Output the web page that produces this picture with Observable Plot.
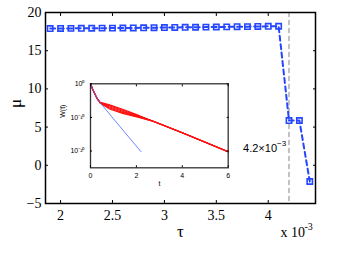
<!DOCTYPE html>
<html><head><meta charset="utf-8">
<script src="https://cdn.jsdelivr.net/npm/d3@7"></script>
<script src="https://cdn.jsdelivr.net/npm/@observablehq/plot@0.6"></script>
<style>
body{margin:0;background:#fff;}
#wrap{position:relative;width:360px;height:258px;overflow:hidden;background:#fff;}
#wrap svg{position:absolute;left:0;top:0;}
</style></head><body><div id="wrap"></div>
<script>
// ---- main chart data ----
const tau = [1.9,2.0,2.1,2.2,2.3,2.4,2.5,2.6,2.7,2.8,2.9,3.0,3.1,3.2,3.3,3.4,3.5,3.6,3.7,3.8,3.9,4.0,4.1,4.2,4.3,4.4];
const mu  = [17.90,17.91,17.92,17.93,17.94,17.95,17.96,17.97,17.98,18.00,18.01,18.03,18.04,18.06,18.07,18.09,18.10,18.12,18.14,18.15,18.17,18.19,18.20,5.86,5.86,-2.12];
const threshold = [4.2];
const annotationMu = [2.2];
const xTicks = [2,2.5,3,3.5,4];
const yTicks = [-5,0,5,10,15,20];

// ---- inset data (log10 W(t)) ----
const redT  = [0,0.1,0.2,0.3,0.42,0.8,1.4,2.1,2.7,4,5,6];
const red1  = [0,-1.7,-3.2,-4.5,-5.5,-6.2,-7.6,-9.4,-11.1,-14.6,-17.4,-20.2];
const red2  = [0,-1.7,-3.2,-4.5,-5.6,-6.5,-7.9,-9.55,-11.1,-14.6,-17.4,-20.2];
const red3  = [0,-1.7,-3.2,-4.5,-5.6,-6.8,-8.2,-9.7,-11.1,-14.6,-17.4,-20.2];
const red4  = [0,-1.7,-3.2,-4.5,-5.7,-7.1,-8.5,-9.85,-11.1,-14.6,-17.4,-20.2];
const red5  = [0,-1.7,-3.2,-4.5,-5.7,-7.4,-8.8,-10.0,-11.1,-14.6,-17.4,-20.2];
const blueT = [0,0.1,0.2,0.3,0.42,0.65,1,1.5,2.2];
const blueW = [0,-1.7,-3.2,-4.5,-5.6,-7.5,-10.4,-14.5,-20.2];
const insetXTicks = [0,2,4,6];
const insetYTicks = [0,-10,-20];

const main = tau.map((t,i)=>({tau:t, mu:mu[i]}));
const redRows = [];
[red1,red2,red3,red4,red5].forEach((s,k)=>s.forEach((v,i)=>redRows.push({run:k,t:redT[i],w:10**v})));
const blueRows = blueT.map((t,i)=>({t, w:10**blueW[i]}));

const blue = "#2546ff";
const serif = "'Liberation Serif','Times New Roman',Times,serif";
const sans = "'Liberation Sans',Arial,Helvetica,sans-serif";
const wrap = document.getElementById("wrap");

const chart = Plot.plot({
  width:360, height:258, marginLeft:45, marginRight:45, marginTop:12, marginBottom:55,
  style:{fontFamily:serif, fontSize:"14px", background:"transparent", color:"black"},
  x:{domain:[1.855,4.455]},
  y:{domain:[-5,20]},
  marks:[
    Plot.ruleX(threshold,{stroke:"#999",strokeWidth:1.2,strokeDasharray:"5,3"}),
    Plot.line(main,{x:"tau",y:"mu",stroke:blue,strokeWidth:2,strokeDasharray:"5,3.5"}),
    Plot.dot(main,{x:"tau",y:"mu",symbol:"square",r:3,stroke:blue,strokeWidth:1.6,fill:"none"}),
    Plot.frame({stroke:"black",strokeWidth:1.5}),
    Plot.axisX({ticks:xTicks,tickSize:-3,tickPadding:10,tickFormat:d=>String(d),label:null,fontSize:14}),
    Plot.axisX({anchor:"top",ticks:xTicks,tickSize:-3,tickFormat:()=>"",label:null}),
    Plot.axisY({ticks:yTicks,tickSize:-3,tickPadding:7,label:null}),
    Plot.axisY({anchor:"right",ticks:yTicks,tickSize:-3,tickFormat:()=>"",label:null}),
    Plot.text(["τ"],{frameAnchor:"bottom",dy:33,fontSize:17}),
    Plot.text(["μ"],{frameAnchor:"left",rotate:-90,dx:-30,dy:0,fontSize:17}),
    Plot.text(["x 10"],{frameAnchor:"bottom-right",textAnchor:"start",dx:-35,dy:33,fontSize:14}),
    Plot.text(["-3"],{frameAnchor:"bottom-right",textAnchor:"start",dx:-11,dy:26,fontSize:10}),
    Plot.text(threshold,{x:d=>d,y:annotationMu,text:()=>"4.2×10",textAnchor:"end",dx:-12,fontFamily:sans,fontSize:11}),
    Plot.text(threshold,{x:d=>d,y:annotationMu,text:()=>"−3",textAnchor:"start",dx:-12,dy:-5,fontFamily:sans,fontSize:8})
  ]
});
wrap.append(chart);

const supMap = {"-":"⁻","0":"⁰","1":"¹","2":"²","3":"³","4":"⁴","5":"⁵","6":"⁶","7":"⁷","8":"⁸","9":"⁹"};
const sup = s => String(s).split("").map(c=>supMap[c]).join("");

const inset = Plot.plot({
  width:185, height:115, marginLeft:40, marginTop:8.3, marginRight:7.3, marginBottom:22.7,
  style:{fontFamily:sans, fontSize:"7px", background:"transparent", color:"black"},
  x:{domain:[0,6]},
  y:{type:"log", domain:[1e-25,1]},
  marks:[
    Plot.frame({fill:"white"}),
    Plot.line(redRows,{x:"t",y:"w",z:"run",stroke:"#ff1010",strokeWidth:1.1}),
    Plot.line(blueRows,{x:"t",y:"w",stroke:"#4a66ff",strokeWidth:0.8}),
    Plot.frame({stroke:"#333",strokeWidth:1.3}),
    Plot.axisX({ticks:insetXTicks,tickSize:-2,tickPadding:7,tickFormat:d=>String(d),label:null,fontSize:7}),
    Plot.axisX({anchor:"top",ticks:insetXTicks,tickSize:-2,tickFormat:()=>"",label:null}),
    Plot.axisY({ticks:insetYTicks.map(e=>10**e),tickSize:-2,tickPadding:8,tickFormat:d=>"10"+sup(Math.round(Math.log10(d))),label:null,fontSize:7}),
    Plot.axisY({anchor:"right",ticks:insetYTicks.map(e=>10**e),tickSize:-2,tickFormat:()=>"",label:null}),
    Plot.text(["t"],{frameAnchor:"bottom",dy:18,fontSize:7}),
    Plot.text(["W(t)"],{frameAnchor:"left",rotate:-90,dx:-28,dy:-8,fontSize:7})
  ]
});
inset.style.left = "50px";
inset.style.top = "75px";
wrap.append(inset);
</script></body></html>
